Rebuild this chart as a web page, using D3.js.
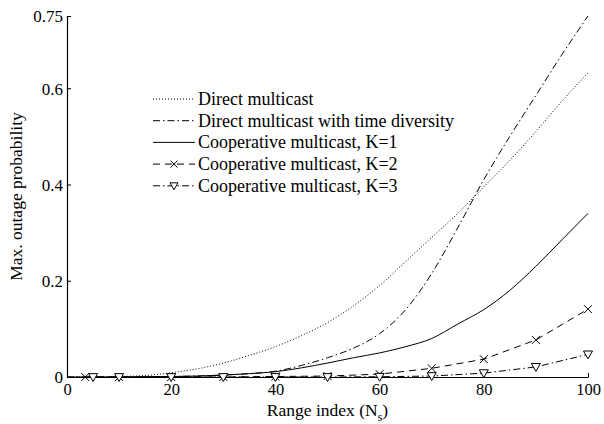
<!DOCTYPE html>
<html><head><meta charset="utf-8">
<script src="https://cdn.jsdelivr.net/npm/d3@7"></script>
<style>
body{margin:0;background:#fff;}
text{font-family:"Liberation Serif","Times New Roman",serif;fill:#000;}
</style></head>
<body><svg id="c" width="604" height="424"></svg>
<script>
const xs = [0,5,10,15,20,25,30,35,40,45,50,55,60,65,70,75,80,85,90,95,100];
const direct = [0,0.0003,0.001,0.003,0.009,0.017,0.029,0.045,0.063,0.086,0.113,0.148,0.19,0.24,0.29,0.34,0.395,0.45,0.51,0.573,0.632];
const directTD = [0,0,0,0.0005,0.001,0.002,0.004,0.007,0.012,0.024,0.04,0.06,0.09,0.14,0.215,0.31,0.41,0.5,0.585,0.67,0.75];
const coopK1 = [0,0,0,0.0005,0.001,0.002,0.004,0.007,0.011,0.019,0.029,0.04,0.05,0.063,0.08,0.11,0.14,0.18,0.23,0.285,0.34];
const xsK2 = [3.5,10,20,30,40,50,60,70,80,90,100];
const coopK2 = [0,0,0,0,0.001,0.002,0.006,0.018,0.037,0.077,0.141];
const xsK3 = [5,10,20,30,40,50,60,70,80,90,100];
const coopK3 = [0,0,0,0,0,0,0.0005,0.002,0.008,0.021,0.047];
const xTicks = [0,20,40,60,80,100];
const yTicks = [0,0.2,0.4,0.6,0.75];
const legendLabels = ["Direct multicast","Direct multicast with time diversity","Cooperative multicast, K=1","Cooperative multicast, K=2","Cooperative multicast, K=3"];

const svg = d3.select("#c");
const L=67,R=588,T=16,B=377;
const x = d3.scaleLinear().domain([0,100]).range([L,R]);
const y = d3.scaleLinear().domain([0,0.75]).range([B,T]);

const styles = [
  {dash:"1,2"},
  {dash:"7,3,1.5,3"},
  {dash:null},
  {dash:"7,5"},
  {dash:"7,3,1.5,3"}
];

const line = d3.line().x(d=>x(d[0])).y(d=>y(d[1]));
const series = [
  xs.map((v,i)=>[v,direct[i]]),
  xs.map((v,i)=>[v,directTD[i]]),
  xs.map((v,i)=>[v,coopK1[i]]),
  xsK2.map((v,i)=>[v,coopK2[i]]),
  xsK3.map((v,i)=>[v,coopK3[i]])
];
const curve = [d3.curveMonotoneX,d3.curveMonotoneX,d3.curveMonotoneX,d3.curveLinear,d3.curveLinear];

// axes
const gx = svg.append("g").attr("transform",`translate(0,${B})`)
  .call(d3.axisBottom(x).tickValues(xTicks).tickSize(-4).tickSizeOuter(0).tickPadding(6).tickFormat(d3.format("d")));
const gy = svg.append("g").attr("transform",`translate(${L},0)`)
  .call(d3.axisLeft(y).tickValues(yTicks).tickSize(-4).tickSizeOuter(0).tickPadding(4).tickFormat(d=>d===0?"0":String(d)));
[gx,gy].forEach(g=>{
  g.select(".domain").attr("stroke","#000").attr("stroke-width",1.2);
  g.selectAll(".tick line").attr("stroke","#000");
  g.selectAll("text").style("font-family","Liberation Serif").attr("fill","#000");
});
gx.selectAll("text").style("font-size","16.5px");
gy.selectAll("text").style("font-size","17px");
gy.selectAll(".tick text").attr("dy","0.35em");

series.forEach((s,i)=>{
  svg.append("path").datum(s)
    .attr("d",line.curve(curve[i]))
    .attr("fill","none").attr("stroke","#000").attr("stroke-width",1)
    .attr("stroke-dasharray",styles[i].dash);
});

function drawX(g,cx,cy,r){
  g.append("path").attr("d",`M${cx-r},${cy-r}L${cx+r},${cy+r}M${cx-r},${cy+r}L${cx+r},${cy-r}`)
   .attr("stroke","#000").attr("stroke-width",1).attr("fill","none");
}
function drawTri(g,cx,cy,r){
  g.append("path").attr("d",`M${cx-r},${cy-r*0.75}L${cx+r},${cy-r*0.75}L${cx},${cy+r}Z`)
   .attr("stroke","#000").attr("stroke-width",1).attr("fill","#fff");
}
const mk = svg.append("g");
series[3].forEach(d=>drawX(mk,x(d[0]),y(d[1]),4));
series[4].forEach(d=>drawTri(mk,x(d[0]),y(d[1]),4.5));

// legend
const lg = svg.append("g");
const lx0=153, lx1=195, ly0=99, ldy=21.7;
legendLabels.forEach((t,i)=>{
  const yy = ly0+i*ldy;
  lg.append("line").attr("x1",lx0).attr("x2",lx1).attr("y1",yy).attr("y2",yy)
    .attr("stroke","#000").attr("stroke-width",1).attr("stroke-dasharray",styles[i].dash);
  if(i===3) drawX(lg,(lx0+lx1)/2,yy,3.5);
  if(i===4) drawTri(lg,(lx0+lx1)/2,yy,4);
  lg.append("text").attr("x",198).attr("y",yy).attr("dy","0.33em")
    .style("font-size","18px").text(t);
});

// axis labels
const xl = svg.append("text").attr("x",(L+R)/2).attr("y",416).attr("text-anchor","middle").style("font-size","17.5px");
xl.append("tspan").text("Range index (N");
xl.append("tspan").attr("dy",5).style("font-size","12px").text("s");
xl.append("tspan").attr("dy",-5).text(")");
svg.append("text").attr("transform",`translate(22,${(T+B)/2}) rotate(-90)`).attr("text-anchor","middle")
  .style("font-size","17.5px").text("Max. outage probability");
</script></body></html>
